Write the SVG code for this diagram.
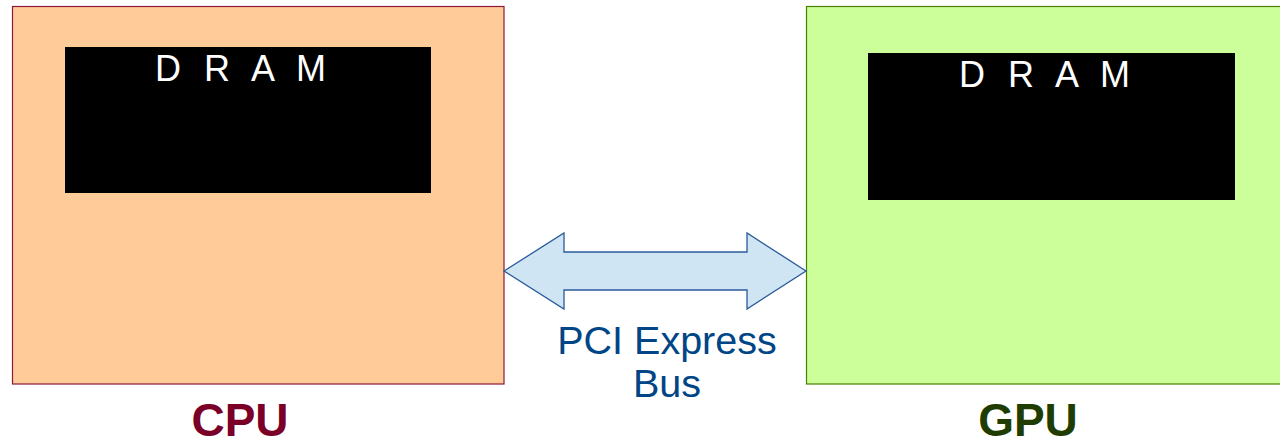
<svg xmlns="http://www.w3.org/2000/svg" width="1280" height="440" viewBox="0 0 1280 440">
<style>
.dram{fill:#000}
.dt{font-family:"Liberation Sans",Arial,sans-serif;font-size:36px;fill:#fff;letter-spacing:6.5px}
.lbl{font-family:"Liberation Sans",Arial,sans-serif;font-size:46px;font-weight:bold;text-anchor:middle}
.bus{font-family:"Liberation Sans",Arial,sans-serif;font-size:39.5px;fill:#004586;text-anchor:middle}
</style>
<rect width="1280" height="440" fill="#fff"/>
<g id="cpu">
<rect x="12.5" y="6.5" width="491.5" height="377.5" fill="#ffcc99" stroke="#8b1a3a" stroke-width="1.2"/>
<rect class="dram" x="65" y="47" width="366" height="146"/>
<text class="dt" x="155" y="81">D R A M</text>
<text class="lbl" x="240" y="436" fill="#7b0028">CPU</text>
</g>
<g id="gpu">
<rect x="806.5" y="6.5" width="480" height="377.5" fill="#ccff99" stroke="#4a7f00" stroke-width="1.2"/>
<rect class="dram" x="868" y="53" width="367" height="147"/>
<text class="dt" x="959" y="87">D R A M</text>
<text class="lbl" x="1028" y="436" fill="#1f3d00">GPU</text>
</g>
<g id="connectors">
<path d="M504,271 L564,233 L564,252 L747,252 L747,233 L806,271 L747,309 L747,290 L564,290 L564,309 Z" fill="#cfe5f4" stroke="#2a5a9a" stroke-width="1.3" stroke-linejoin="miter"/>
<text class="bus" x="667" y="354">PCI Express</text>
<text class="bus" x="667" y="397">Bus</text>
</g>
</svg>
